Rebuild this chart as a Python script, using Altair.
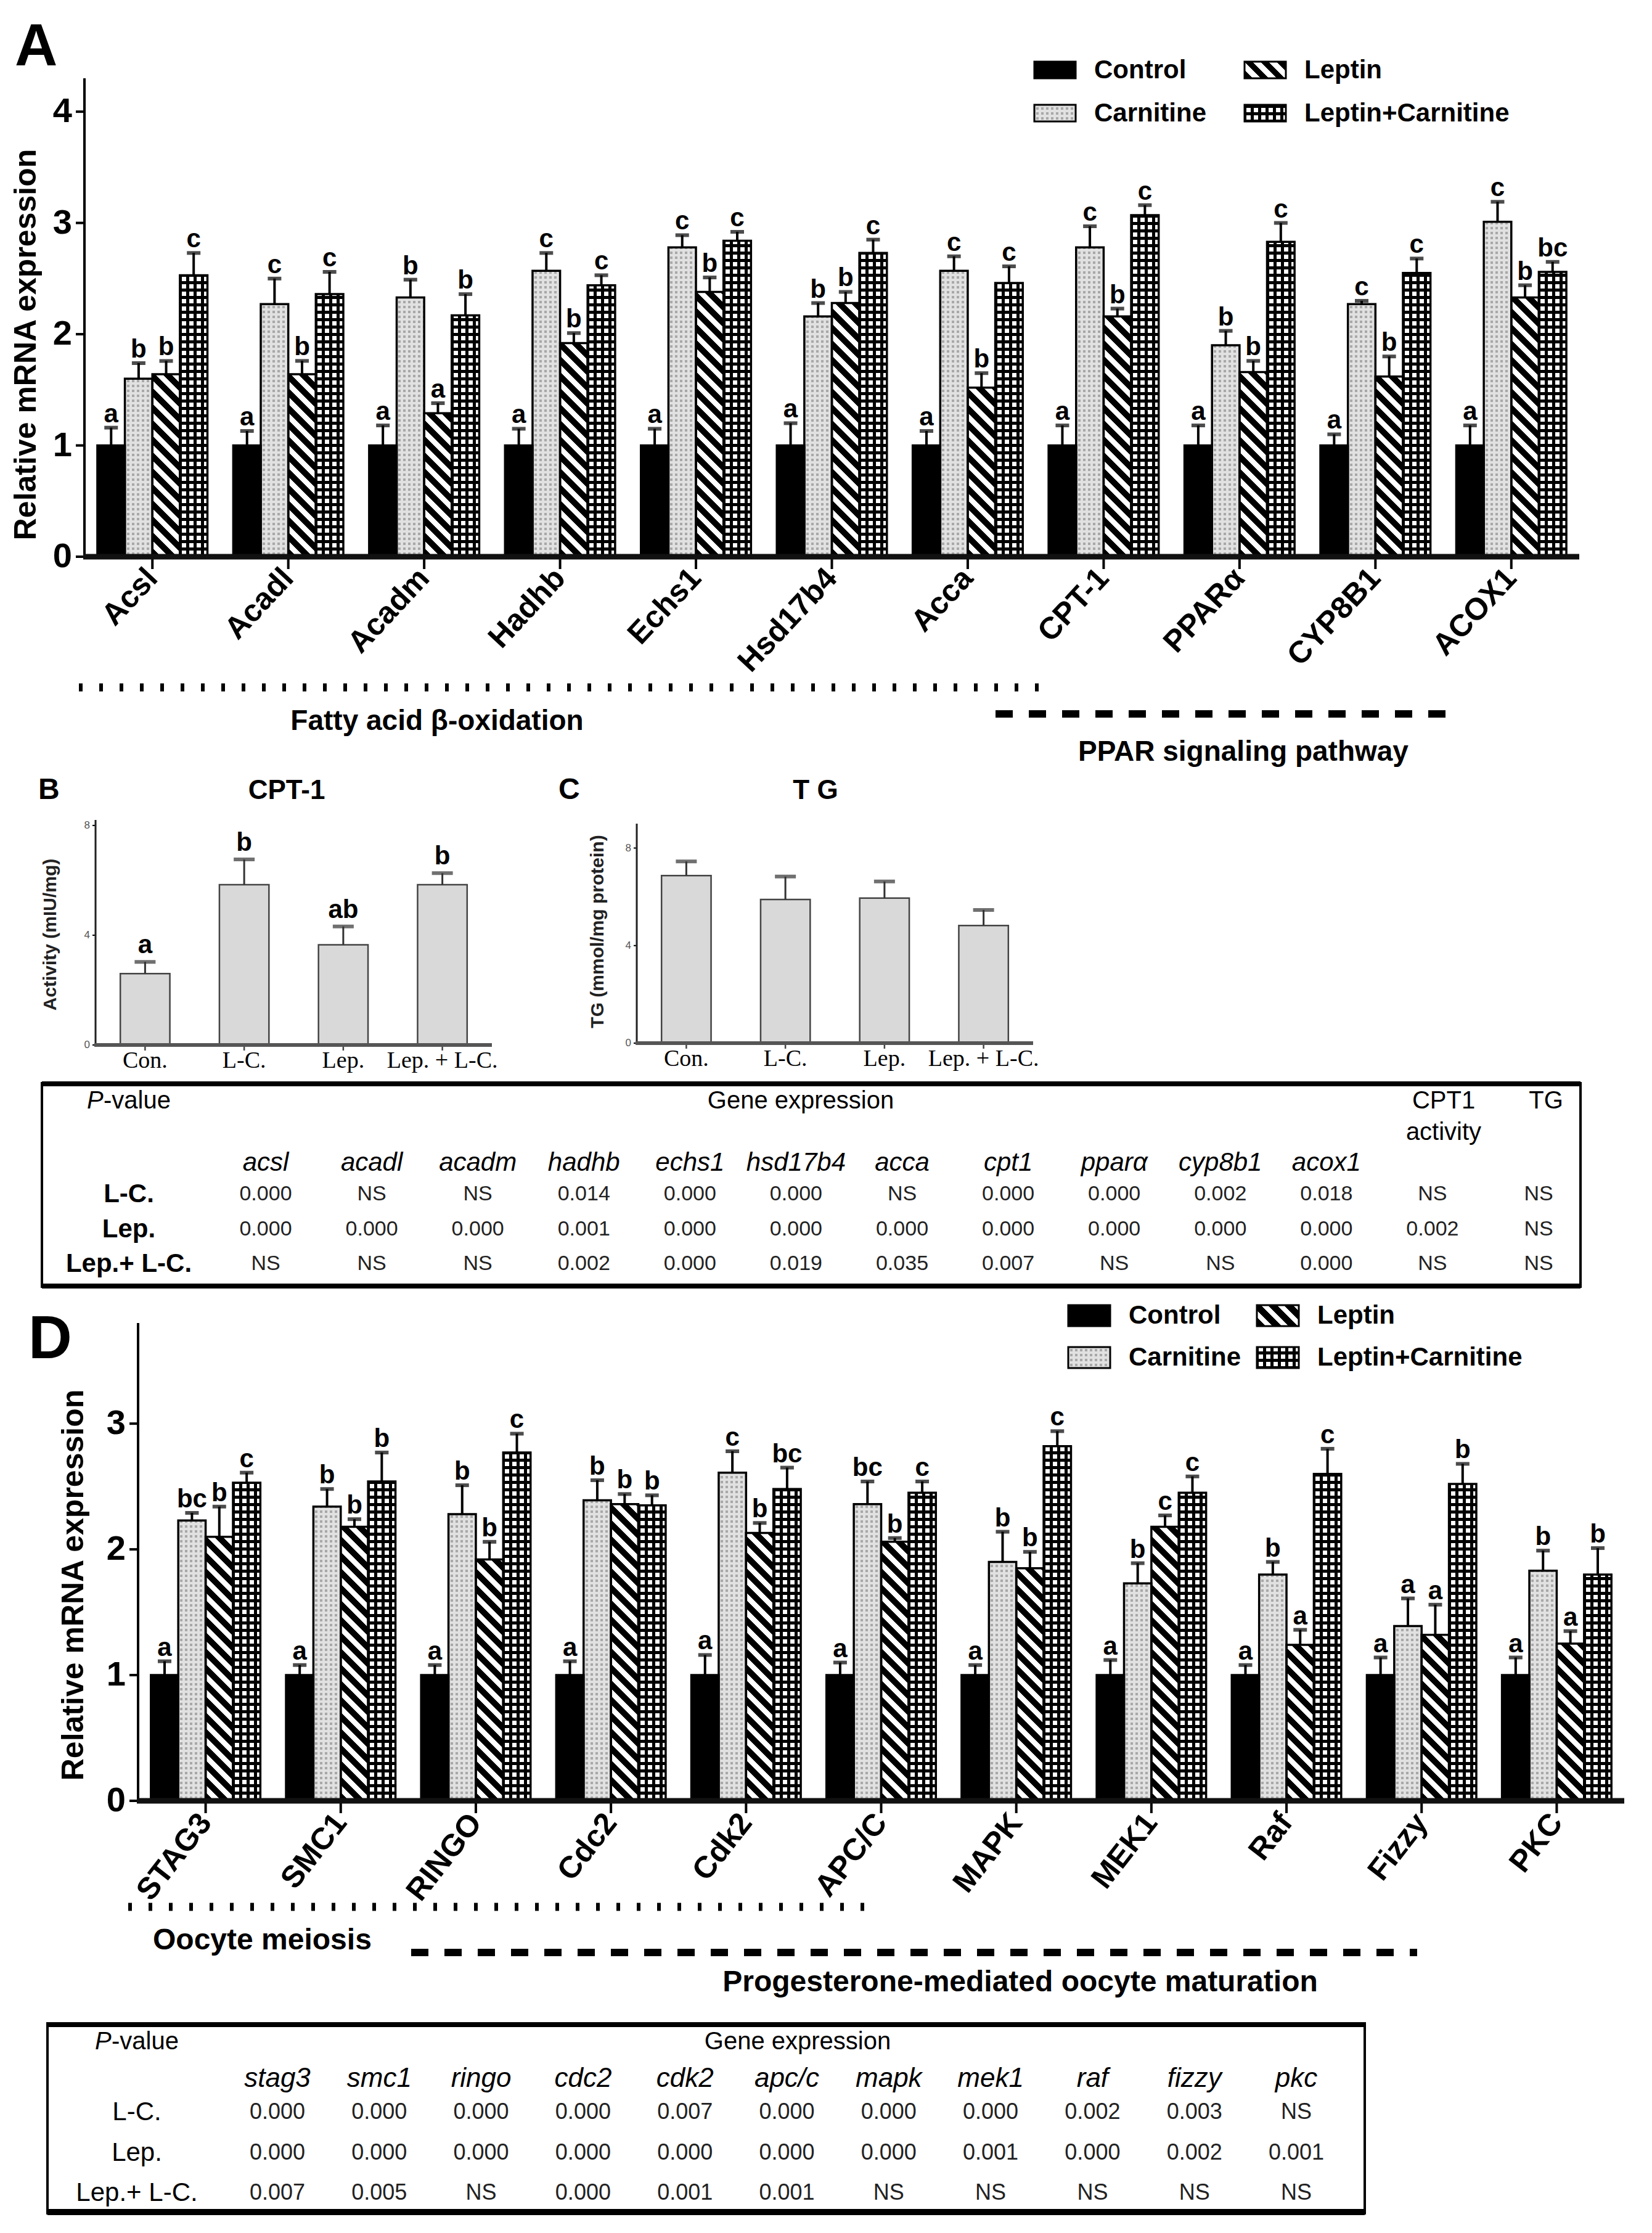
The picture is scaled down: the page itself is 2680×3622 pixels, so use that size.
import altair as alt

W, H = 2664, 3606
M = 8  # page margin (image px -> chart px)


def P(v):
    return v - M


GROUPS = ["Control", "Carnitine", "Leptin", "Leptin+Carnitine"]

# ---------------- Panel A ----------------
A_GENES = ["Acsl", "Acadl", "Acadm", "Hadhb", "Echs1", "Hsd17b4", "Acca", "CPT-1", "PPARα", "CYP8B1", "ACOX1"]
A_CTRL = [1.0, 1.0, 1.0, 1.0, 1.0, 1.0, 1.0, 1.0, 1.0, 1.0, 1.0]
A_CTRL_SEM = [0.16, 0.13, 0.18, 0.15, 0.15, 0.20, 0.13, 0.18, 0.18, 0.10, 0.18]
A_CARN = [1.60, 2.27, 2.33, 2.57, 2.78, 2.16, 2.57, 2.78, 1.90, 2.27, 3.01]
A_CARN_SEM = [0.14, 0.23, 0.16, 0.16, 0.11, 0.12, 0.13, 0.19, 0.13, 0.03, 0.18]
A_LEP = [1.64, 1.64, 1.29, 1.92, 2.38, 2.28, 1.52, 2.16, 1.66, 1.62, 2.33]
A_LEP_SEM = [0.12, 0.12, 0.09, 0.09, 0.13, 0.10, 0.13, 0.07, 0.10, 0.18, 0.11]
A_LC = [2.53, 2.36, 2.17, 2.44, 2.84, 2.73, 2.46, 3.07, 2.83, 2.55, 2.56]
A_LC_SEM = [0.20, 0.20, 0.19, 0.09, 0.08, 0.12, 0.15, 0.09, 0.17, 0.13, 0.09]
A_LET_CTRL = ["a", "a", "a", "a", "a", "a", "a", "a", "a", "a", "a"]
A_LET_CARN = ["b", "c", "b", "c", "c", "b", "c", "c", "b", "c", "c"]
A_LET_LEP = ["b", "b", "a", "b", "b", "b", "b", "b", "b", "b", "b"]
A_LET_LC = ["c", "c", "b", "c", "c", "c", "c", "c", "c", "c", "bc"]
A_YTICKS = [0, 1, 2, 3, 4]

# ---------------- Panel D ----------------
D_GENES = ["STAG3", "SMC1", "RINGO", "Cdc2", "Cdk2", "APC/C", "MAPK", "MEK1", "Raf", "Fizzy", "PKC"]
D_CTRL = [1.0, 1.0, 1.0, 1.0, 1.0, 1.0, 1.0, 1.0, 1.0, 1.0, 1.0]
D_CTRL_SEM = [0.11, 0.08, 0.08, 0.11, 0.16, 0.10, 0.08, 0.12, 0.08, 0.14, 0.14]
D_CARN = [2.23, 2.34, 2.28, 2.39, 2.61, 2.36, 1.90, 1.73, 1.80, 1.39, 1.83]
D_CARN_SEM = [0.06, 0.14, 0.23, 0.16, 0.17, 0.18, 0.24, 0.16, 0.10, 0.22, 0.16]
D_LEP = [2.10, 2.18, 1.92, 2.36, 2.13, 2.06, 1.85, 2.18, 1.24, 1.32, 1.25]
D_LEP_SEM = [0.24, 0.06, 0.14, 0.08, 0.08, 0.03, 0.13, 0.09, 0.12, 0.24, 0.10]
D_LC = [2.53, 2.54, 2.77, 2.35, 2.48, 2.45, 2.82, 2.45, 2.60, 2.52, 1.80]
D_LC_SEM = [0.08, 0.23, 0.15, 0.08, 0.17, 0.09, 0.12, 0.13, 0.20, 0.16, 0.21]
D_LET_CTRL = ["a", "a", "a", "a", "a", "a", "a", "a", "a", "a", "a"]
D_LET_CARN = ["bc", "b", "b", "b", "c", "bc", "b", "b", "b", "a", "b"]
D_LET_LEP = ["b", "b", "b", "b", "b", "b", "b", "c", "a", "a", "a"]
D_LET_LC = ["c", "b", "c", "b", "bc", "c", "c", "c", "c", "b", "b"]
D_YTICKS = [0, 1, 2, 3]

# ---------------- Panels B, C ----------------
BC_CATS = ["Con.", "L-C.", "Lep.", "Lep. + L-C."]
B_VAL = [2.60, 5.84, 3.65, 5.84]
B_SEM = [0.43, 0.92, 0.67, 0.42]
B_LET = ["a", "b", "ab", "b"]
C_VAL = [6.87, 5.89, 5.95, 4.82]
C_SEM = [0.58, 0.94, 0.68, 0.64]
BC_YTICKS = [0, 4, 8]

# ---------------- Tables ----------------
T_ROWS = ["L-C.", "Lep.", "Lep.+ L-C."]
T1_GENES = ["acsl", "acadl", "acadm", "hadhb", "echs1", "hsd17b4", "acca", "cpt1", "pparα", "cyp8b1", "acox1"]
T1_EXTRA = ["CPT1 activity", "TG"]
T1_LC = ["0.000", "NS", "NS", "0.014", "0.000", "0.000", "NS", "0.000", "0.000", "0.002", "0.018", "NS", "NS"]
T1_LEP = ["0.000", "0.000", "0.000", "0.001", "0.000", "0.000", "0.000", "0.000", "0.000", "0.000", "0.000", "0.002", "NS"]
T1_LEPLC = ["NS", "NS", "NS", "0.002", "0.000", "0.019", "0.035", "0.007", "NS", "NS", "0.000", "NS", "NS"]
T2_GENES = ["stag3", "smc1", "ringo", "cdc2", "cdk2", "apc/c", "mapk", "mek1", "raf", "fizzy", "pkc"]
T2_LC = ["0.000", "0.000", "0.000", "0.000", "0.007", "0.000", "0.000", "0.000", "0.002", "0.003", "NS"]
T2_LEP = ["0.000", "0.000", "0.000", "0.000", "0.000", "0.000", "0.000", "0.001", "0.000", "0.002", "0.001"]
T2_LEPLC = ["0.007", "0.005", "NS", "0.000", "0.001", "0.001", "NS", "NS", "NS", "NS", "NS"]

CARN_LIGHT = "#e1e1e1"
CARN_DOT = "#a8a8a8"
TRANSP = "rgba(0,0,0,0)"


# ---------------- pattern fills (gradients) ----------------
def r4(v):
    return round(v, 4)


def band_stops(length, period, start, on_len, on, off):
    stops = [{"offset": 0, "color": off}]
    p = start
    while p < length:
        a = r4(p / length)
        b = r4(min((p + on_len) / length, 1))
        stops += [{"offset": a, "color": off}, {"offset": a, "color": on},
                  {"offset": b, "color": on}, {"offset": b, "color": off}]
        p += period
    stops.append({"offset": 1, "color": off})
    return stops


def diag_fill(w, h, period=26, on_len=14):
    h = max(h, 1.0)
    L = w + h
    s = h * L / (h * h + w * w)
    return {"gradient": "linear", "x1": 0, "y1": 1, "x2": r4(s * w / h), "y2": r4(1 - s),
            "stops": band_stops(L, period, 0, on_len, "#000000", "#ffffff")}


def vstripe_fill(w, period, start, on_len, on, off):
    return {"gradient": "linear", "x1": 0, "y1": 0, "x2": 1, "y2": 0,
            "stops": band_stops(w, period, start, on_len, on, off)}


def hband_fill(h, period, start, on_len, off):
    h = max(h, 1.0)
    return {"gradient": "linear", "x1": 0, "y1": 1, "x2": 0.000001, "y2": 0,
            "stops": band_stops(h, period, start, on_len, TRANSP, off)}


def fills_for(k, w, h):
    if k == 0:
        return "#000000", TRANSP
    if k == 1:
        return (vstripe_fill(w, 8, 3, 4, CARN_DOT, CARN_LIGHT),
                hband_fill(h, 8, 3, 4, CARN_LIGHT))
    if k == 2:
        return diag_fill(w, h), TRANSP
    return (vstripe_fill(w, 12, 3, 7, "#ffffff", "#000000"),
            hband_fill(h, 12, 3, 7, "#000000"))


# ---------------- helpers ----------------
def blank():
    return alt.Data(values=[{"k": 0}])


def label(t, x, y, size, weight="normal", align="center", baseline="middle", style="normal",
          font="Liberation Sans", color="black", angle=0):
    return alt.Chart(blank()).mark_text(
        text=t, fontSize=size, fontWeight=weight, align=align, baseline=baseline,
        fontStyle=style, font=font, color=color, angle=angle
    ).encode(x=alt.value(P(x)), y=alt.value(P(y)))


def hline(x0, x1, y, width, dash=None, color="black"):
    kw = dict(strokeWidth=width, color=color)
    if dash:
        kw["strokeDash"] = dash
    return alt.Chart(blank()).mark_rule(**kw).encode(
        x=alt.value(P(x0)), x2=alt.value(P(x1)), y=alt.value(P(y)))


def vline(x, y0, y1, width, color="black"):
    return alt.Chart(blank()).mark_rule(strokeWidth=width, color=color).encode(
        x=alt.value(P(x)), y=alt.value(P(y0)), y2=alt.value(P(y1)))


def box(x0, x1, y0, y1, width):
    return alt.Chart(blank()).mark_rect(fillOpacity=0, stroke="black", strokeWidth=width).encode(
        x=alt.value(P(x0)), x2=alt.value(P(x1)), y=alt.value(P(y0)), y2=alt.value(P(y1)))


def y_axis_layers(ticks, ysc, x0, tick_len, tick_w, lab_gap, lab_size, lab_weight, lab_color):
    tb = alt.Chart(alt.Data(values=[{"v": t, "lab": str(t)} for t in ticks]))
    tk = tb.mark_rule(strokeWidth=tick_w, color="black").encode(
        x=alt.value(P(x0) - tick_len), x2=alt.value(P(x0)), y=alt.Y("v:Q", scale=ysc, axis=None))
    tl = tb.mark_text(align="right", baseline="middle", fontSize=lab_size, fontWeight=lab_weight,
                      color=lab_color).encode(
        x=alt.value(P(x0) - lab_gap), y=alt.Y("v:Q", scale=ysc, axis=None), text="lab:N")
    return [tk, tl]


def x_axis_layers(cats, field, xsc, y0, tick_len, tick_w, tick_color, lab_dy, angle, lab_size,
                  lab_weight, lab_font, align, baseline):
    gb = alt.Chart(alt.Data(values=[{field: c} for c in cats]))
    XX = alt.X(field + ":N", sort=cats, scale=xsc, bandPosition=0.5, axis=None)
    tk = gb.mark_rule(strokeWidth=tick_w, color=tick_color).encode(
        x=XX, y=alt.value(P(y0)), y2=alt.value(P(y0) + tick_len))
    tl = gb.mark_text(angle=angle, align=align, baseline=baseline, fontSize=lab_size,
                      fontWeight=lab_weight, font=lab_font, color="black").encode(
        x=XX, y=alt.value(P(y0) + lab_dy), text=field + ":N")
    return [tk, tl]


def grouped_panel(genes, means, sems, lets, x0, x1, y0, ytop, dom, yticks, angle, tx, ty):
    n = len(genes)
    step = (x1 - x0) / n
    bw = step * 0.81 / 4
    ppu = (y0 - ytop) / dom
    recs = []
    for gi, g in enumerate(genes):
        for k, grp in enumerate(GROUPS):
            m = means[k][gi]
            e = sems[k][gi]
            f, f2 = fills_for(k, bw, m * ppu)
            recs.append({"gene": g, "grp": grp, "m": m, "top": round(m + e, 3),
                         "let": lets[k][gi], "f": f, "f2": f2})
    base = alt.Chart(alt.Data(values=recs))
    xsc = alt.Scale(domain=genes, range=[P(x0), P(x1)], paddingInner=0.19, paddingOuter=0.095)
    ysc = alt.Scale(domain=[0, dom], range=[P(y0), P(ytop)], nice=False, zero=False)
    xo = alt.XOffset("grp:N", sort=GROUPS, scale=alt.Scale(domain=GROUPS))
    X = alt.X("gene:N", sort=genes, scale=xsc, axis=None)
    bars = base.mark_bar(strokeWidth=0).encode(
        x=X, xOffset=xo, y=alt.Y("m:Q", scale=ysc, axis=None),
        fill=alt.Fill("f:N", scale=None, legend=None))
    over = base.mark_bar(strokeWidth=0).encode(
        x=X, xOffset=xo, y=alt.Y("m:Q", scale=ysc, axis=None),
        fill=alt.Fill("f2:N", scale=None, legend=None))
    outline = base.mark_bar(fillOpacity=0, stroke="black", strokeWidth=3.5).encode(
        x=X, xOffset=xo, y=alt.Y("m:Q", scale=ysc, axis=None))
    err = base.mark_rule(strokeWidth=4, color="black").encode(
        x=X, xOffset=xo, y=alt.Y("m:Q", scale=ysc, axis=None), y2="top:Q")
    caps = base.mark_tick(thickness=6, size=22, color="black").encode(
        x=X, xOffset=xo, y=alt.Y("top:Q", scale=ysc, axis=None))
    txt = base.mark_text(dy=-9, baseline="alphabetic", fontSize=42, fontWeight="bold",
                         color="black").encode(
        x=X, xOffset=xo, y=alt.Y("top:Q", scale=ysc, axis=None), text="let:N")
    layers = [bars, over, outline, err, caps, txt]
    layers += y_axis_layers(yticks, ysc, x0, 14, 4, 20, 56, "bold", "black")
    layers += x_axis_layers(genes, "gene", xsc, y0, 20, 4, "black", 27, angle, 50, "bold",
                            "Liberation Sans", "right", "middle")
    layers.append(vline(x0, y0, ytop, 4))
    layers.append(hline(x0 - 2, x1, y0, 9, color="#111111"))
    layers.append(label("Relative mRNA expression", tx, ty, 50, weight="bold", angle=270))
    return alt.layer(*layers)


def simple_panel(cats, vals, sems, lets, x0, x1, y0, ytop, dom, yticks, ytitle, tx, ty):
    recs = []
    for i, c in enumerate(cats):
        recs.append({"c": c, "v": vals[i], "top": round(vals[i] + sems[i], 3),
                     "let": lets[i] if lets else ""})
    base = alt.Chart(alt.Data(values=recs))
    xsc = alt.Scale(domain=cats, range=[P(x0), P(x1)], paddingInner=0.5, paddingOuter=0.25)
    ysc = alt.Scale(domain=[0, dom], range=[P(y0), P(ytop)], nice=False, zero=False)
    X = alt.X("c:N", sort=cats, scale=xsc, axis=None)
    bars = base.mark_bar(fill="#d9d9d9", stroke="#444444", strokeWidth=2.5).encode(
        x=X, y=alt.Y("v:Q", scale=ysc, axis=None))
    err = base.mark_rule(strokeWidth=3, color="#333333").encode(
        x=X, y=alt.Y("v:Q", scale=ysc, axis=None), y2="top:Q")
    caps = base.mark_tick(thickness=6, size=34, color="#333333").encode(
        x=X, y=alt.Y("top:Q", scale=ysc, axis=None))
    layers = [bars, err, caps]
    if lets:
        layers.append(base.mark_text(dy=-14, baseline="alphabetic", fontSize=42, fontWeight="bold",
                                     color="black").encode(
            x=X, y=alt.Y("top:Q", scale=ysc, axis=None), text="let:N"))
    layers += y_axis_layers(yticks, ysc, x0, 5, 2, 9, 17, "normal", "#555555")
    layers += x_axis_layers(cats, "c", xsc, y0, 9, 2.5, "#444444", 26, 0, 38, "normal",
                            "Liberation Serif", "center", "middle")
    layers.append(vline(x0, y0, ytop, 3, color="#222222"))
    layers.append(hline(x0 - 2, x1, y0, 6, color="#555555"))
    layers.append(label(ytitle, tx, ty, 30, weight="bold", angle=270, color="#222222"))
    return alt.layer(*layers)


def legend(cx1, cx2, ry1, ry2, sw, sh):
    pos = [(cx1, ry1), (cx1, ry2), (cx2, ry1), (cx2, ry2)]
    recs = []
    for k, grp in enumerate(GROUPS):
        x, y = pos[k]
        f, f2 = fills_for(k, sw, sh)
        recs.append({"grp": grp, "x": P(x), "x2": P(x + sw), "y": P(y), "y2": P(y + sh),
                     "tx": P(x + sw + 30), "ty": P(y + sh / 2), "f": f, "f2": f2})
    base = alt.Chart(alt.Data(values=recs))
    enc = dict(x=alt.X("x:Q", scale=None, axis=None), x2="x2:Q",
               y=alt.Y("y:Q", scale=None, axis=None), y2="y2:Q")
    sw1 = base.mark_rect(strokeWidth=0).encode(fill=alt.Fill("f:N", scale=None, legend=None), **enc)
    sw2 = base.mark_rect(strokeWidth=0).encode(fill=alt.Fill("f2:N", scale=None, legend=None), **enc)
    sw3 = base.mark_rect(fillOpacity=0, stroke="black", strokeWidth=3).encode(**enc)
    txt = base.mark_text(align="left", baseline="middle", fontSize=42, fontWeight="bold",
                         color="black").encode(
        x=alt.X("tx:Q", scale=None, axis=None), y=alt.Y("ty:Q", scale=None, axis=None), text="grp:N")
    return [sw1, sw2, sw3, txt]


def table(genes, extra, rows, vals, cx0, cx1, gene_y, ry0, ry1, lab_x, lab_bold, vsize, gsize):
    cols = genes + extra
    xsc = alt.Scale(domain=cols, range=[P(cx0), P(cx1)], padding=0)
    ysc = alt.Scale(domain=rows, range=[P(ry0), P(ry1)], padding=0)
    recs = []
    for ri, r in enumerate(rows):
        for ci, c in enumerate(cols):
            recs.append({"col": c, "row": r, "v": vals[ri][ci]})
    v = alt.Chart(alt.Data(values=recs)).mark_text(fontSize=vsize, color="#222222").encode(
        x=alt.X("col:N", sort=cols, scale=xsc, axis=None),
        y=alt.Y("row:N", sort=rows, scale=ysc, axis=None), text="v:N")
    g = alt.Chart(alt.Data(values=[{"col": c} for c in genes])).mark_text(
        fontSize=gsize, fontStyle="italic", color="black").encode(
        x=alt.X("col:N", sort=cols, scale=xsc, axis=None), y=alt.value(P(gene_y)), text="col:N")
    rl = alt.Chart(alt.Data(values=[{"row": r} for r in rows])).mark_text(
        fontSize=42, fontWeight="bold" if lab_bold else "normal", color="black").encode(
        x=alt.value(P(lab_x)), y=alt.Y("row:N", sort=rows, scale=ysc, axis=None), text="row:N")
    return [v, g, rl]


layers = []

# Panel A
layers.append(grouped_panel(
    A_GENES, [A_CTRL, A_CARN, A_LEP, A_LC], [A_CTRL_SEM, A_CARN_SEM, A_LEP_SEM, A_LC_SEM],
    [A_LET_CTRL, A_LET_CARN, A_LET_LEP, A_LET_LC],
    137, 2562, 903, 127, 4.3, A_YTICKS, 313, 43, 559))
layers += legend(1678, 2019, 100, 170, 67, 27)
layers.append(label("A", 24, 106, 96, weight="bold", align="left", baseline="alphabetic"))
layers.append(hline(128, 1700, 1115, 13, dash=[6, 27]))
layers.append(hline(1615, 2367, 1158, 12, dash=[28, 26]))
layers.append(label("Fatty acid β-oxidation", 709, 1170, 46, weight="bold"))
layers.append(label("PPAR signaling pathway", 2017, 1220, 46, weight="bold"))

# Panels B, C
layers.append(simple_panel(BC_CATS, B_VAL, B_SEM, B_LET, 155, 798, 1695, 1330, 8.2, BC_YTICKS,
                           "Activity (mIU/mg)", 82, 1516))
layers.append(simple_panel(BC_CATS, C_VAL, C_SEM, None, 1033, 1676, 1692, 1336, 9.0, BC_YTICKS,
                           "TG (mmol/mg protein)", 970, 1511))
layers.append(label("B", 62, 1296, 48, weight="bold", align="left", baseline="alphabetic"))
layers.append(label("CPT-1", 465, 1296, 44, weight="bold", baseline="alphabetic"))
layers.append(label("C", 906, 1296, 48, weight="bold", align="left", baseline="alphabetic"))
layers.append(label("T G", 1323, 1296, 44, weight="bold", baseline="alphabetic"))

# Table 1
layers.append(box(68, 2564, 1757, 2087, 4))
layers.append(hline(68, 2564, 1758, 8))
layers.append(hline(68, 2564, 2086, 8))
layers.append(label("P", 141, 1786, 40, style="italic", align="left"))
layers.append(label("-value", 168, 1786, 40, align="left"))
layers.append(label("Gene expression", 1299, 1786, 40))
layers.append(label("CPT1", 2342, 1786, 40))
layers.append(label("activity", 2342, 1837, 40))
layers.append(label("TG", 2508, 1786, 40))
layers += table(T1_GENES, T1_EXTRA, T_ROWS, [T1_LC, T1_LEP, T1_LEPLC], 431, 2496, 1886,
                1937, 2050, 209, True, 34, 42)

# Panel D
layers.append(grouped_panel(
    D_GENES, [D_CTRL, D_CARN, D_LEP, D_LC], [D_CTRL_SEM, D_CARN_SEM, D_LEP_SEM, D_LC_SEM],
    [D_LET_CTRL, D_LET_CARN, D_LET_LEP, D_LET_LC],
    224, 2635, 2921, 2146, 3.8, D_YTICKS, 308, 120, 2571))
layers += legend(1733, 2039, 2117, 2185, 68, 34)
layers.append(label("D", 46, 2203, 98, weight="bold", align="left", baseline="alphabetic"))
layers.append(hline(208, 1415, 3093, 13, dash=[6, 27]))
layers.append(hline(667, 2299, 3167, 12, dash=[28, 26]))
layers.append(label("Oocyte meiosis", 248, 3148, 48, weight="bold", align="left"))
layers.append(label("Progesterone-mediated oocyte maturation", 1655, 3216, 48, weight="bold"))

# Table 2
layers.append(box(77, 2214, 3282, 3590, 4))
layers.append(hline(77, 2214, 3284, 8))
layers.append(hline(77, 2214, 3588, 10))
layers.append(label("P", 154, 3312, 40, style="italic", align="left"))
layers.append(label("-value", 181, 3312, 40, align="left"))
layers.append(label("Gene expression", 1294, 3312, 40))
layers += table(T2_GENES, [], T_ROWS, [T2_LC, T2_LEP, T2_LEPLC], 450, 2103, 3372,
                3426, 3557, 222, False, 36, 44)

chart = alt.layer(*layers).resolve_scale(
    x="independent", y="independent", xOffset="independent"
).properties(
    width=W, height=H, autosize=alt.AutoSizeParams(type="none"), padding=0, background="white"
).configure(font="Liberation Sans").configure_view(strokeWidth=0)

chart.save("out.html", embed_options={"renderer": "svg", "actions": False})
